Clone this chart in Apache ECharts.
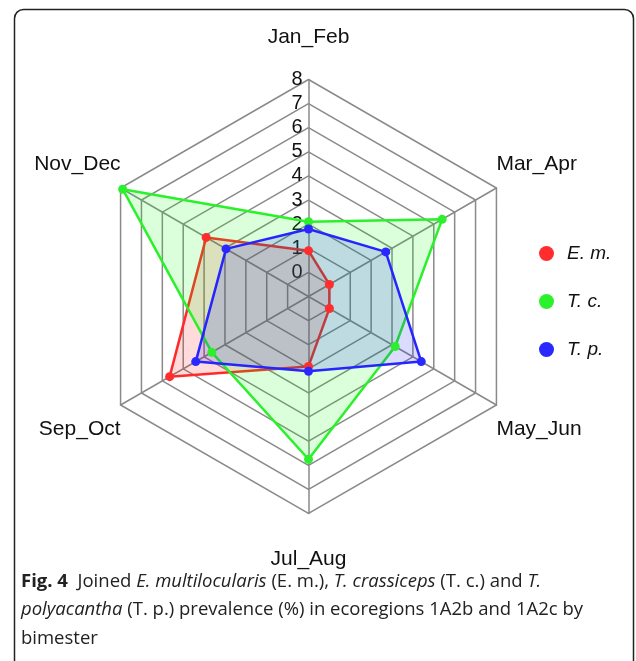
<!DOCTYPE html>
<html>
<head>
<meta charset="utf-8">
<script src="https://cdn.jsdelivr.net/npm/echarts@6/dist/echarts.min.js"></script>
<style>
  html, body { margin: 0; padding: 0; background: #fff; }
  #radar { width: 636px; height: 661px; }
</style>
</head>
<body>
<div id="radar"></div>
<script>
// bimesters, chronological (drawn clockwise from the top)
const bimesters = ['Jan_Feb', 'Mar_Apr', 'May_Jun', 'Jul_Aug', 'Sep_Oct', 'Nov_Dec']
const seriesNames = ['E. m.', 'T. c.', 'T. p.']
const emValues = [0.9, 0.0, 0.0, 1.9, 5.65, 3.9]
const tcValues = [2.1, 5.4, 3.15, 5.75, 3.63, 7.9]
const tpValues = [1.8, 2.7, 4.4, 2.1, 4.4, 2.95]
const scaleMin = -1
const scaleMax = 8

const colors = ['rgb(255,45,45)', 'rgb(45,240,45)', 'rgb(40,40,255)']
const areaColors = ['rgba(255,0,0,0.2)', 'rgba(0,255,0,0.2)', 'rgba(0,0,255,0.2)']
const font = 'Liberation Sans, Arial, sans-serif'
const capFont = 'Open Sans, Noto Sans, sans-serif'

// echarts lays indicators out counter-clockwise, the figure goes clockwise
const order = [0, 5, 4, 3, 2, 1]

// top / bottom names get pushed off the vertex with padding,
// side names get lifted or dropped with blank lines
const namePad = {
  Jan_Feb: [0, 0, 20, 0],
  Jul_Aug: [34, 0, 0, 0]
}
const nameShift = {
  Mar_Apr: 'up',
  Nov_Dec: 'up',
  May_Jun: 'down',
  Sep_Oct: 'down'
}

const indicator = order.map(function (i, k) {
  const ind = {
    name: bimesters[i],
    min: scaleMin,
    max: scaleMax,
    nameGap: 0,
    axisLabel: { show: k === 0 }
  }
  if (namePad[bimesters[i]]) ind.nameTextStyle = { padding: namePad[bimesters[i]] }
  return ind
})

function reorder (arr) {
  return order.map(function (i) { return arr[i] })
}

const allValues = [emValues, tcValues, tpValues]

let mychart = echarts.init(document.getElementById('radar'))
mychart.setOption({
  animation: false,
  legend: {
    orient: 'vertical',
    left: 534,
    top: 239,
    icon: 'circle',
    itemWidth: 15,
    itemHeight: 15,
    itemGap: 29,
    textStyle: {
      fontFamily: font,
      fontSize: 19,
      fontStyle: 'italic',
      color: '#111',
      lineHeight: 15,
      padding: [0, 0, 0, 8]
    },
    data: seriesNames
  },
  radar: {
    center: [308.5, 296.5],
    radius: 217,
    splitNumber: scaleMax - scaleMin,
    shape: 'polygon',
    indicator: indicator,
    axisName: {
      color: '#111',
      fontSize: 21,
      fontFamily: font,
      lineHeight: 24,
      formatter: function (name) {
        if (nameShift[name] === 'up') return name + '\n \n '
        if (nameShift[name] === 'down') return ' \n \n' + name
        return name
      }
    },
    axisLine: { lineStyle: { color: '#8a8a8a', width: 1.5 } },
    splitLine: { lineStyle: { color: '#8a8a8a', width: 1.5 } },
    splitArea: { show: false },
    axisTick: { show: false },
    axisLabel: {
      show: false,
      color: '#111',
      fontSize: 20,
      fontFamily: font,
      margin: 6,
      formatter: function (v) { return v < 0 ? '' : v }
    }
  },
  series: [{
    type: 'radar',
    symbol: 'circle',
    symbolSize: 9,
    data: allValues.map(function (vals, s) {
      return {
        name: seriesNames[s],
        value: reorder(vals),
        itemStyle: { color: colors[s] },
        lineStyle: { color: colors[s], width: 2.5 },
        areaStyle: { color: areaColors[s] }
      }
    })
  }],
  graphic: [
    {
      type: 'rect',
      shape: { x: 14.5, y: 9.5, width: 619, height: 700, r: 9 },
      style: { fill: 'none', stroke: '#222', lineWidth: 1.5 },
      silent: true
    },
    {
      type: 'text',
      left: 21,
      top: 567,
      style: {
        text: '{b|Fig. 4}  Joined {i|E. multilocularis} (E. m.), {i|T. crassiceps} (T. c.) and {i|T.}\n{i|polyacantha} (T. p.) prevalence (%) in ecoregions 1A2b and 1A2c by\nbimester',
        fontFamily: capFont,
        fontSize: 18.5,
        lineHeight: 28.5,
        fill: '#222',
        rich: {
          b: { fontWeight: 'bold', fontSize: 18.5, fontFamily: capFont, fill: '#222', lineHeight: 28.5 },
          i: { fontStyle: 'italic', fontSize: 18.5, fontFamily: capFont, fill: '#222', lineHeight: 28.5 }
        }
      }
    }
  ]
})
</script>
</body>
</html>
